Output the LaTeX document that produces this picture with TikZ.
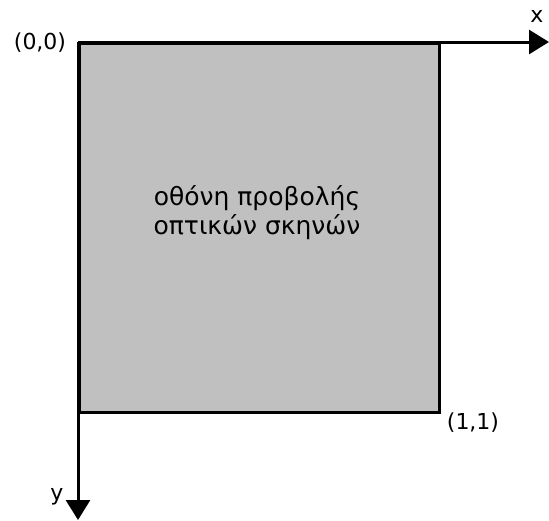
\documentclass[tikz,border=0pt]{standalone}
\usepackage{fontspec}
\setmainfont{DejaVu Sans}
\usepackage{xcolor}
\usetikzlibrary{arrows.meta,positioning}
\definecolor{screengray}{RGB}{192,192,192}

\begin{document}
\begin{tikzpicture}[x=1pt, y=-1pt, every node/.style={font=\fontsize{22}{26}\selectfont},
  axis/.style={line width=3pt, -{Triangle[length=20pt,width=24pt]}}]
\useasboundingbox (0,0) rectangle (549,520);
% ---- the screen
\node[draw, line width=3pt, fill=screengray, minimum width=360pt, minimum height=369pt,
  inner sep=0pt, anchor=north west] (screen) at (78,42) {};
\node[align=center, font=\fontsize{25}{29}\selectfont] (caption) at (257,213) {οθόνη προβολής\\ οπτικών σκηνών};
% ---- axes
\coordinate (origin) at (78,42);
\coordinate (xend) at (549,42);
\coordinate (yend) at (78,520);
\draw[axis] (origin) -- (xend);
\draw[axis] (origin) -- (yend);
\node (xlabel) at (537,16) {x};
\node (ylabel) at (57,497) {y};
\node (zero) at (40,43) {(0,0)};
\node (one) at (473,423) {(1,1)};
\end{tikzpicture}
\end{document}
